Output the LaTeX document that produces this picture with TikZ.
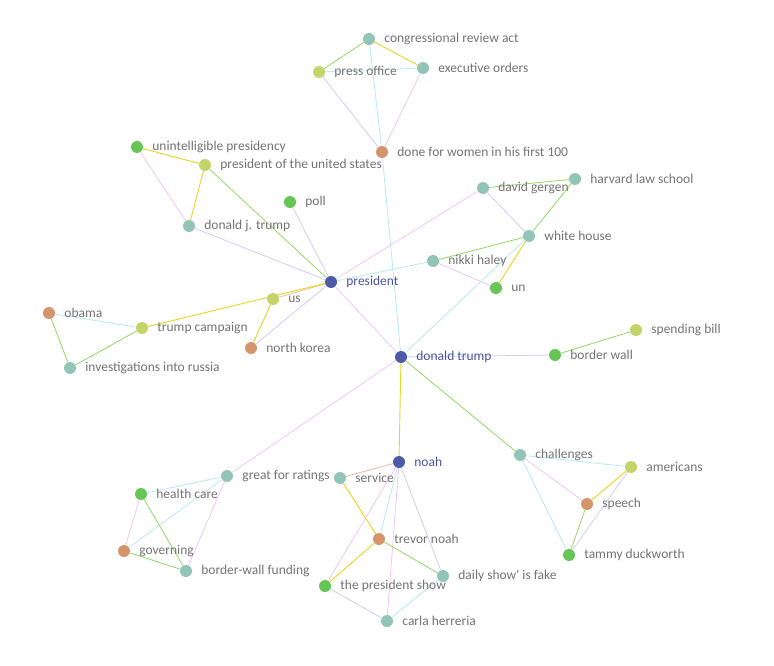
\documentclass[tikz,border=0pt]{standalone}
\usepackage{fontspec}
\newfontfamily\labfont{Carlito}
\pgfdeclarelayer{back}
\pgfdeclarelayer{bg}
\pgfsetlayers{back,bg,main}
\definecolor{cteal}{HTML}{93C4B8}
\definecolor{cyg}{HTML}{C3D46A}
\definecolor{cgr}{HTML}{66C655}
\definecolor{cor}{HTML}{D4956A}
\definecolor{cbl}{HTML}{4C5AA8}
\definecolor{labgray}{HTML}{747474}
\definecolor{labblue}{HTML}{4A56A0}
\definecolor{egreen}{HTML}{95D865}
\definecolor{eyellow}{HTML}{E8D620}
\definecolor{ecyan}{HTML}{B8EAF0}
\definecolor{elav}{HTML}{D2CEF2}
\definecolor{epink}{HTML}{EEC8F6}
\definecolor{etan}{HTML}{E2C6AA}
\tikzset{
  vx/.style={circle, minimum size=12pt, inner sep=0pt, draw=none},
  nt/.style={vx, fill=cteal},
  ny/.style={vx, fill=cyg},
  ng/.style={vx, fill=cgr},
  no/.style={vx, fill=cor},
  nb/.style={vx, fill=cbl},
  lab/.style={text=labgray, font=\labfont\fontsize{13.5}{15}\selectfont, inner sep=0pt},
  labb/.style={text=labblue, font=\labfont\fontsize{13.5}{15}\selectfont, inner sep=0pt},
  label distance=9pt,
  eg/.style={draw=egreen, line width=0.8pt},
  ey/.style={draw=eyellow, line width=0.9pt},
  ec/.style={draw=ecyan, line width=0.8pt},
  el/.style={draw=elav, line width=0.8pt},
  ep/.style={draw=epink, line width=0.8pt},
  et/.style={draw=etan, line width=0.9pt},
}
\begin{document}
\begin{tikzpicture}[x=1pt,y=-1pt]
\begin{pgfonlayer}{back}
\fill[white] (0,0) rectangle (774,666);
\end{pgfonlayer}
\useasboundingbox (0,0) rectangle (774,666);
% nodes
\node[nt, label={[lab]right:congressional review act}] (cra) at (369,39) {};
\node[ny, label={[lab]right:press office}] (po) at (319,72) {};
\node[nt, label={[lab]right:executive orders}] (eo) at (423,68) {};
\node[no, label={[lab]right:done for women in his first 100}] (dfw) at (382,152) {};
\node[ng, label={[lab]right:unintelligible presidency}] (up) at (137,147) {};
\node[ny, label={[lab]right:president of the united states}] (potus) at (205,165) {};
\node[ng, label={[lab]right:poll}] (poll) at (290,202) {};
\node[nt, label={[lab]right:donald j. trump}] (djt) at (189,226) {};
\node[nb, label={[labb]right:president}] (pres) at (331,282) {};
\node[ny, label={[lab]right:us}] (us) at (273,299) {};
\node[no, label={[lab]right:obama}] (obama) at (49,313) {};
\node[ny, label={[lab]right:trump campaign}] (tc) at (142,328) {};
\node[no, label={[lab]right:north korea}] (nk) at (251,348) {};
\node[nt, label={[lab]right:investigations into russia}] (ir) at (70,368) {};
\node[nt, label={[lab]right:david gergen}] (dg) at (483,188) {};
\node[nt, label={[lab]right:harvard law school}] (hls) at (575,179) {};
\node[nt, label={[lab]right:white house}] (wh) at (529,236) {};
\node[nt, label={[lab]right:nikki haley}] (nh) at (433,261) {};
\node[ng, label={[lab]right:un}] (un) at (496,288) {};
\node[ny, label={[lab]right:spending bill}] (sb) at (636,330) {};
\node[ng, label={[lab]right:border wall}] (bw) at (555,355) {};
\node[nb, label={[labb]right:donald trump}] (dt) at (401,357) {};
\node[nb, label={[labb]right:noah}] (noah) at (399,462) {};
\node[nt, label={[lab]right:challenges}] (ch) at (520,455) {};
\node[ny, label={[lab]right:americans}] (am) at (631,467) {};
\node[no, label={[lab]right:speech}] (sp) at (587,504) {};
\node[ng, label={[lab]right:tammy duckworth}] (td) at (569,555) {};
\node[nt, label={[lab]right:great for ratings}] (gfr) at (227,476) {};
\node[nt, label={[lab]right:service}] (svc) at (340,478) {};
\node[ng, label={[lab]right:health care}] (hc) at (141,494) {};
\node[no, label={[lab]right:governing}] (gov) at (124,551) {};
\node[nt, label={[lab]right:border-wall funding}] (bwf) at (186,571) {};
\node[no, label={[lab]right:trevor noah}] (tn) at (379,539) {};
\node[nt, label={[lab]right:daily show' is fake}] (dsf) at (443,576) {};
\node[ng, label={[lab]right:the president show}] (tps) at (325,586) {};
\node[nt, label={[lab]right:carla herreria}] (carla) at (387,621) {};
% edges
\begin{pgfonlayer}{bg}
\draw[eg] (cra) -- (po);
\draw[ey] (cra) -- (eo);
\draw[ec] (po) -- (eo);
\draw[el] (po) -- (dfw);
\draw[ep] (eo) -- (dfw);
\draw[ec] (cra) -- (dfw);
\draw[ec] (dfw) -- (dt);
\draw[ey] (up) -- (potus);
\draw[ep] (up) -- (djt);
\draw[ey] (potus) -- (djt);
\draw[eg] (potus) -- (pres);
\draw[el] (poll) -- (pres);
\draw[el] (djt) -- (pres);
\draw[et] (pres) -- (us);
\draw[ey] (pres) -- (tc);
\draw[ey] (us) -- (nk);
\draw[el] (pres) -- (nk);
\draw[ec] (obama) -- (tc);
\draw[eg] (obama) -- (ir);
\draw[eg] (tc) -- (ir);
\draw[ec] (pres) -- (nh);
\draw[ep] (pres) -- (dg);
\draw[ep] (pres) -- (dt);
\draw[eg] (nh) -- (wh);
\draw[ep] (nh) -- (un);
\draw[ey] (wh) -- (un);
\draw[eg] (dg) -- (hls);
\draw[el] (dg) -- (wh);
\draw[eg] (hls) -- (wh);
\draw[ec] (wh) -- (dt);
\draw[el] (dt) -- (bw);
\draw[eg] (bw) -- (sb);
\draw[ey] (dt) -- (noah);
\draw[eg] (dt) -- (ch);
\draw[ep] (dt) -- (gfr);
\draw[ec] (ch) -- (am);
\draw[ep] (ch) -- (sp);
\draw[ec] (ch) -- (td);
\draw[ey] (am) -- (sp);
\draw[el] (am) -- (td);
\draw[eg] (sp) -- (td);
\draw[ec] (gfr) -- (hc);
\draw[ec] (gfr) -- (gov);
\draw[ep] (gfr) -- (bwf);
\draw[ep] (hc) -- (gov);
\draw[eg] (hc) -- (bwf);
\draw[eg] (gov) -- (bwf);
\draw[et] (noah) -- (svc);
\draw[ey] (svc) -- (tn);
\draw[ec] (noah) -- (tn);
\draw[ep] (noah) -- (tps);
\draw[ep] (noah) -- (carla);
\draw[el] (noah) -- (dsf);
\draw[ey] (tn) -- (tps);
\draw[eg] (tn) -- (dsf);
\draw[el] (tps) -- (carla);
\draw[ec] (carla) -- (dsf);
\end{pgfonlayer}
\end{tikzpicture}
\end{document}
